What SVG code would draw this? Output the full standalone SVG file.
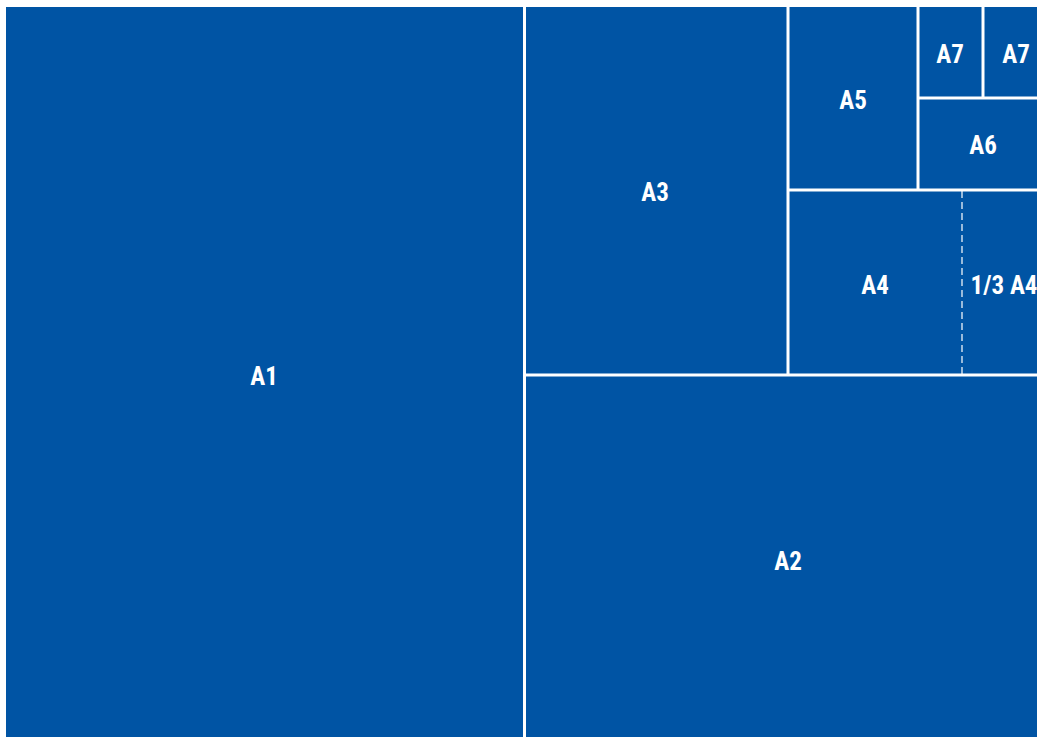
<svg xmlns="http://www.w3.org/2000/svg" width="1037" height="737" viewBox="0 0 1037 737">
<style>
.bg{fill:#0054A4}
.ln{stroke:#fff;stroke-width:3;fill:none}
.dash{stroke:#fff;stroke-width:1.2;stroke-dasharray:7 4;fill:none}
.lb{fill:#fff;font-family:"Liberation Sans Narrow","Roboto Condensed","Liberation Sans",sans-serif;font-weight:bold;font-size:25px;text-anchor:middle;dominant-baseline:central}
</style>
<rect x="0" y="0" width="1037" height="737" fill="#fff"/>
<rect class="bg" x="6" y="7" width="1031" height="730"/>
<g id="connectors">
<line class="ln" x1="524.5" y1="7" x2="524.5" y2="737"/>
<line class="ln" x1="524" y1="375" x2="1037" y2="375"/>
<line class="ln" x1="788" y1="7" x2="788" y2="375"/>
<line class="ln" x1="788" y1="190" x2="1037" y2="190"/>
<line class="ln" x1="918" y1="7" x2="918" y2="190"/>
<line class="ln" x1="918" y1="98" x2="1037" y2="98"/>
<line class="ln" x1="983" y1="7" x2="983" y2="98"/>
<line class="dash" x1="962" y1="191" x2="962" y2="374"/>
</g>
<g id="A1"><text class="lb" x="264" y="376">A1</text></g>
<g id="A2"><text class="lb" x="788" y="561">A2</text></g>
<g id="A3"><text class="lb" x="655" y="192">A3</text></g>
<g id="A4"><text class="lb" x="875" y="285">A4</text></g>
<g id="A4third"><text class="lb" x="1004" y="285">1/3 A4</text></g>
<g id="A5"><text class="lb" x="853" y="100">A5</text></g>
<g id="A6"><text class="lb" x="983" y="145">A6</text></g>
<g id="A7a"><text class="lb" x="950" y="54">A7</text></g>
<g id="A7b"><text class="lb" x="1016" y="54">A7</text></g>
</svg>
